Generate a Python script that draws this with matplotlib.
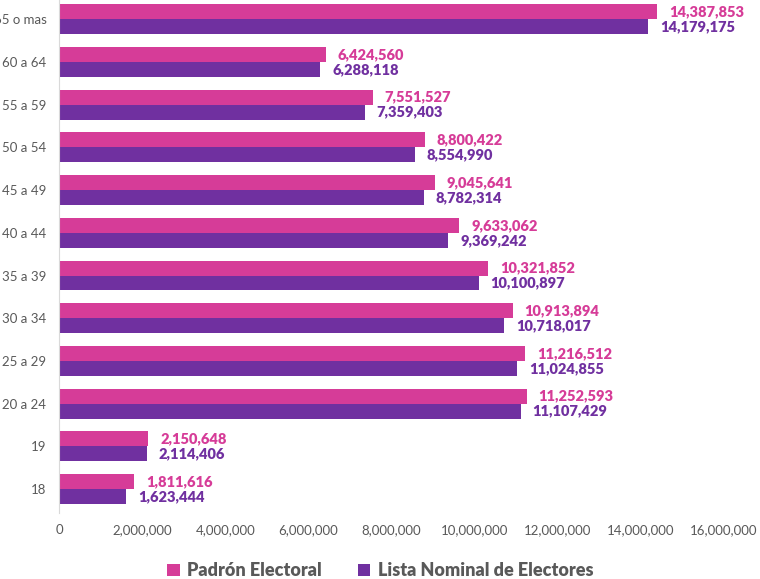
import numpy as np
import matplotlib.pyplot as plt
from matplotlib.ticker import FuncFormatter

grupos = ['18', '19', '20 a 24', '25 a 29', '30 a 34', '35 a 39', '40 a 44',
          '45 a 49', '50 a 54', '55 a 59', '60 a 64', '65 o mas']
padron = [1811616, 2150648, 11252593, 11216512, 10913894, 10321852, 9633062,
          9045641, 8800422, 7551527, 6424560, 14387853]
lista = [1623444, 2114406, 11107429, 11024855, 10718017, 10100897, 9369242,
         8782314, 8554990, 7359403, 6288118, 14179175]

rosa = '#d63c98'
morado = '#7030a0'
gris = '#595959'

plt.rcParams['font.family'] = ['Lato', 'DejaVu Sans']

fig = plt.figure(figsize=(7.6, 5.79), dpi=100)
ax = fig.add_axes([0.0776, 0.114, 0.875, 0.886])

y = np.arange(len(grupos))
h = 0.35
b1 = ax.barh(y + h/2, padron, height=h, color=rosa, label='Padrón Electoral')
b2 = ax.barh(y - h/2, lista, height=h, color=morado, label='Lista Nominal de Electores')

for bars, col in ((b1, rosa), (b2, morado)):
    for r in bars:
        ax.annotate(f'{int(r.get_width()):,}',
                    (r.get_width(), r.get_y() + r.get_height()/2),
                    xytext=(8.5, 0), textcoords='offset points',
                    va='center', ha='left', color=col,
                    fontsize=10.5, fontweight='heavy')

ax.set_xlim(0, 16000000)
ax.set_ylim(-0.56, 11.45)
ax.set_xticks(np.arange(0, 16000001, 2000000))
ax.xaxis.set_major_formatter(FuncFormatter(lambda v, p: f'{int(v):,}'))
ax.set_yticks(y)
ax.set_yticklabels(grupos)
ax.tick_params(axis='both', length=0, colors=gris, labelsize=9.5)
ax.tick_params(axis='x', pad=8)
ax.tick_params(axis='y', pad=9)
for s in ('top', 'right', 'bottom'):
    ax.spines[s].set_visible(False)
ax.spines['left'].set_color('#d9d9d9')

leg = fig.legend(handles=[b1, b2], loc='center', bbox_to_anchor=(0.5, 0.014),
                 ncol=2, frameon=False, handlelength=0.7, handleheight=0.7,
                 handletextpad=0.4, columnspacing=2.0,
                 prop={'size': 13, 'weight': 'heavy'})
for t in leg.get_texts():
    t.set_color(gris)

fig.savefig('out.png', dpi=100)
